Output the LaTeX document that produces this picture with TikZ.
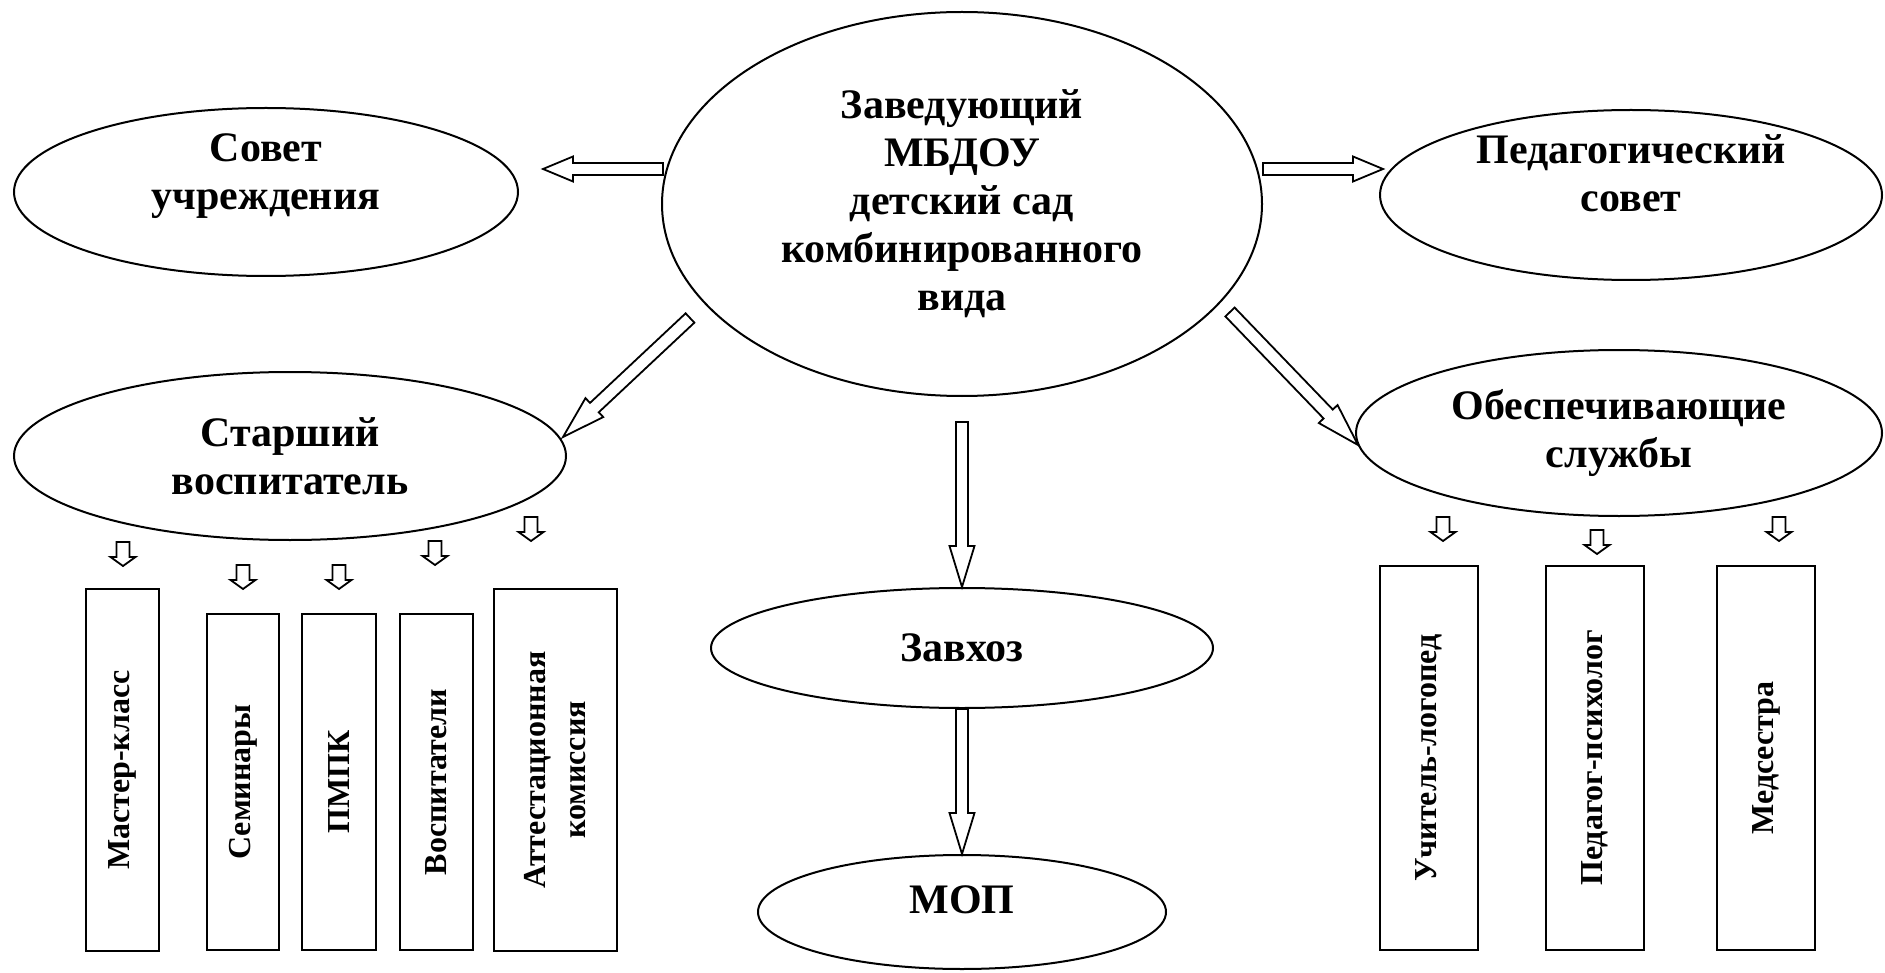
\documentclass[tikz,border=0pt]{standalone}
\usepackage{fontspec}
\setmainfont{Liberation Serif}
\usepackage{tikz}
\usetikzlibrary{calc}
\usetikzlibrary{shapes.geometric}

\tikzset {
  x=0.5pt, y=-0.5pt,
  % ellipse units
  main/.style = {draw, ellipse, line width=1pt, inner sep=0pt, align=center,
    font=\fontsize{21}{24}\selectfont\bfseries},
  txt/.style = {align=center, font=\fontsize{21}{24}\selectfont\bfseries},
  % vertical boxes at the bottom
  unit/.style = {draw, rectangle, line width=1pt, rotate=90, align=center,
    font=\fontsize{16}{20}\selectfont\bfseries},
  % hollow block arrows
  hollow/.style = {draw, fill=white, line width=0.9pt, line join=miter},
}

% tail, tip, shaft half width, head half width, head length
\newcommand{\hollowarrow}[5]{
  \coordinate (hb) at ($(#2)!#5!(#1)$);
  \draw[hollow] ($(#1)!#3!90:(#2)$) -- ($(hb)!#3!-90:(#1)$) -- ($(hb)!#4!-90:(#1)$) -- (#2)
    -- ($(hb)!#4!90:(#1)$) -- ($(hb)!#3!90:(#1)$) -- ($(#1)!#3!-90:(#2)$) -- cycle;
}

\begin{document}
\begin{tikzpicture}
        \useasboundingbox (0,0) rectangle (1885,973);

        \node[main, minimum width=300pt, minimum height=192pt] (head) at (962,204)
          {Заведующий\\МБДОУ\\детский сад\\комбинированного\\вида};
        \node[main, minimum width=252pt, minimum height=84pt] (sovet) at (266,192) {};
        \node[txt] (sovet-t) at (266,176) {Совет\\учреждения};
        \node[main, minimum width=251pt, minimum height=85pt] (pedsovet) at (1631,195) {};
        \node[txt] (pedsovet-t) at (1631,173) {Педагогический\\совет};
        \node[main, minimum width=276pt, minimum height=84pt] (starsh) at (290,456) {Старший\\воспитатель};
        \node[main, minimum width=263pt, minimum height=83pt] (obesp) at (1619,433) {Обеспечивающие\\службы};
        \node[main, minimum width=251pt, minimum height=60pt] (zavhoz) at (962,648) {Завхоз};
        \node[main, minimum width=204pt, minimum height=57pt] (mop) at (962,912) {};
        \node[txt] (mop-t) at (962,900) {МОП};

        \node[unit, minimum width=181pt, minimum height=36.5pt] (mk) at (122.5,770) {Мастер-класс};
        \node[unit, minimum width=168pt, minimum height=36pt] (sem) at (243,782) {Семинары};
        \node[unit, minimum width=168pt, minimum height=37pt] (pmpk) at (339,782) {ПМПК};
        \node[unit, minimum width=168pt, minimum height=36.5pt] (vosp) at (436.5,782) {Воспитатели};
        \node[unit, minimum width=181pt, minimum height=61.5pt] (att) at (555.5,770) {Аттестационная\\комиссия};

        \node[unit, minimum width=192pt, minimum height=49pt] (logo) at (1429,758) {Учитель-логопед};
        \node[unit, minimum width=192pt, minimum height=49pt] (psy) at (1595,758) {Педагог-психолог};
        \node[unit, minimum width=192pt, minimum height=49pt] (med) at (1766,758) {Медсестра};

        \coordinate (h-w) at (663,169);
        \coordinate (sovet-in) at (543,169);
        \coordinate (h-e) at (1263,169);
        \coordinate (ped-in) at (1383,169);
        \coordinate (h-sw) at (690,318);
        \coordinate (st-in) at (563,437);
        \coordinate (h-se) at (1230,312);
        \coordinate (ob-in) at (1358,445);
        \coordinate (h-s) at (962,422);

        \hollowarrow{h-w}{sovet-in}{3pt}{6.25pt}{15pt}
        \hollowarrow{h-e}{ped-in}{3pt}{6.25pt}{15pt}
        \hollowarrow{h-sw}{st-in}{3.2pt}{6.5pt}{21.5pt}
        \hollowarrow{h-se}{ob-in}{3.2pt}{6.5pt}{21.5pt}
        \hollowarrow{h-s}{zavhoz.north}{3pt}{6.25pt}{20.5pt}
        \hollowarrow{zavhoz.south}{mop.north}{3pt}{6.25pt}{20.5pt}

        % small arrows over the boxes
        \foreach \x/\y in {123/542, 243/565, 339/565, 435/541, 531/517, 1443/517, 1597/530, 1779/517} {
          \coordinate (s-\x) at (\x,\y);
          \coordinate (t-\x) at (\x,{\y+24});
          \hollowarrow{s-\x}{t-\x}{3.25pt}{6.25pt}{4.5pt}
        }
      \end{tikzpicture}
\end{document}
